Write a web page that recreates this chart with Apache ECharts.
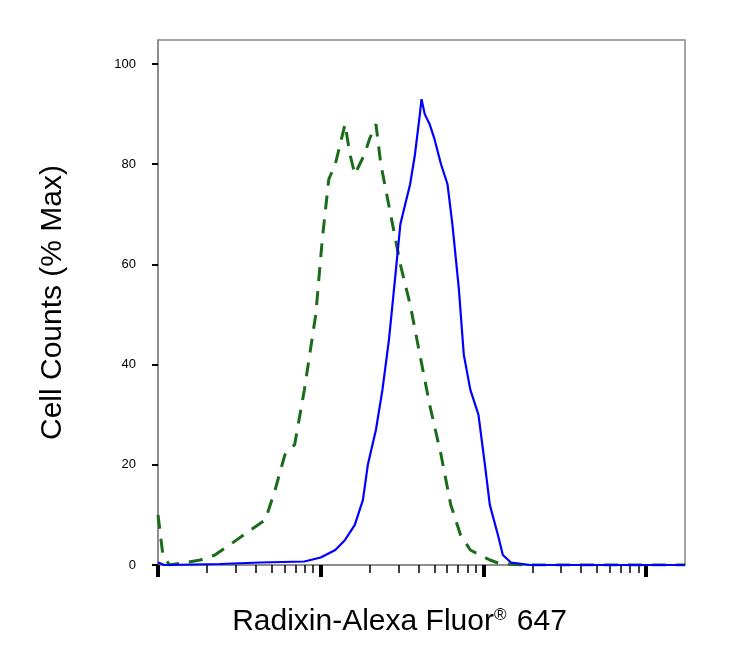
<!DOCTYPE html><html><head><meta charset="utf-8"><script src="https://cdn.jsdelivr.net/npm/echarts@6/dist/echarts.min.js"></script></head><body style="margin:0"><div id="c" style="width:749px;height:661px"></div><script>
// x in log10 decades of fluorescence
const isoDec=[2.00,2.03,2.07,2.17,2.26,2.35,2.44,2.57,2.66,2.72,2.78,2.84,2.90,2.97,3.01,3.05,3.09,3.12,3.15,3.18,3.21,3.24,3.27,3.30,3.34,3.37,3.43,3.49,3.55,3.61,3.67,3.74,3.80,3.86,3.92,3.98,4.04,4.10,4.23,5.24];
const isoVal=[10,2,0,0.5,1,2,4,7,9,15,22,24,35,50,65,77,80,84,88,82,78,80,82,85,88,80,70,60,52,42,32,22,12,6,3,2,1,0.3,0,0];
const radDec=[2.00,2.04,2.38,2.63,2.90,3.00,3.09,3.15,3.21,3.26,3.29,3.34,3.38,3.42,3.46,3.49,3.52,3.55,3.58,3.61,3.62,3.64,3.67,3.70,3.74,3.77,3.78,3.81,3.85,3.88,3.92,3.97,4.01,4.04,4.09,4.12,4.17,4.29,5.24];
const radVal=[0.5,0,0.2,0.5,0.7,1.5,3,5,8,13,20,27,35,45,58,68,72,76,82,90,93,90,88,85,80,77,76,68,55,42,35,30,20,12,6,2,0.5,0,0];
const yTicks=[0,20,40,60,80,100];
const xMajor=[100,1000,10000,100000];
const toPts=(d,v)=>d.map((x,i)=>[Math.pow(10,x),v[i]]);
const ch=echarts.init(document.getElementById('c'));
ch.setOption({
 grid:{left:158,right:64,top:40,bottom:96,show:true,borderColor:'#888',borderWidth:1.5},
 xAxis:{type:'log',min:100,max:Math.pow(10,5.24),logBase:10,
  name:'{a|Radixin-Alexa Fluor}{s|®}{a| 647}',nameLocation:'middle',nameGap:42,
  nameTextStyle:{padding:[0,44,0,0],rich:{a:{fontSize:30,fontFamily:'Liberation Sans',color:'#000'},s:{fontSize:17,fontFamily:'Liberation Sans',color:'#000',verticalAlign:'top',padding:[0,2,10,0]}}},
  axisLine:{lineStyle:{color:'#888',width:1.5}},axisLabel:{show:false},splitLine:{show:false},
  axisTick:{length:12,customValues:xMajor,lineStyle:{color:'#000',width:4}},
  minorTick:{show:true,splitNumber:9,length:8,lineStyle:{color:'#000',width:1.5}}},
 yAxis:{type:'value',min:0,max:104.8,interval:20,
  name:'Cell Counts (% Max)',nameLocation:'middle',nameGap:90,
  nameTextStyle:{fontSize:30,fontFamily:'Liberation Sans',color:'#000'},
  axisLine:{show:true,lineStyle:{color:'#888',width:1.5}},
  axisLabel:{fontSize:13,fontFamily:'Liberation Sans',color:'#000',margin:22,customValues:yTicks},
  axisTick:{length:6,customValues:yTicks,lineStyle:{color:'#000',width:2}},splitLine:{show:false}},
 series:[
  {type:'line',data:toPts(isoDec,isoVal),showSymbol:false,lineStyle:{color:'#1a6b1a',width:3,type:[14,10]}},
  {type:'line',data:toPts(radDec,radVal),showSymbol:false,lineStyle:{color:'#0000ff',width:2.2}}
 ]});
</script></body></html>
